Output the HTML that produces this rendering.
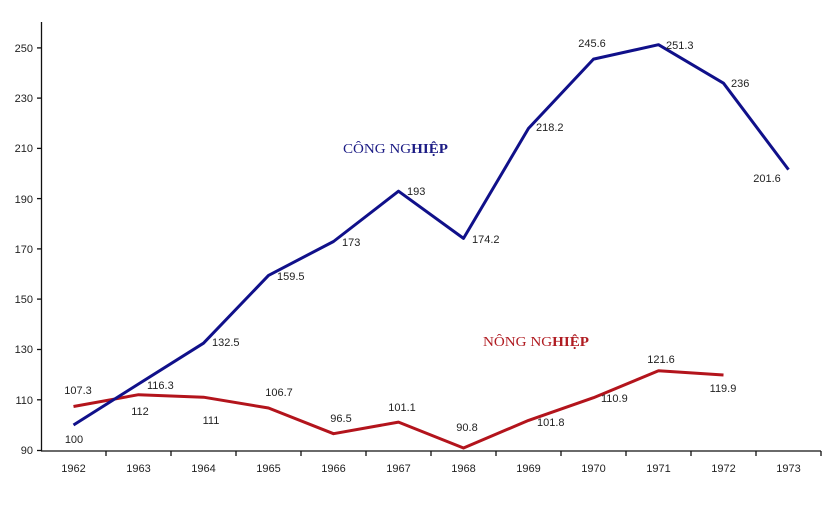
<!DOCTYPE html>
<html><head><meta charset="utf-8"><style>
html,body{margin:0;padding:0;background:#fff;}
svg{display:block;}
text{font-family:"Liberation Sans",Arial,sans-serif;font-size:11px;fill:#222;}
.s{font-family:"Liberation Serif","Times New Roman",serif;font-size:14px;}
</style></head><body>
<svg width="834" height="512" viewBox="0 0 834 512" xmlns="http://www.w3.org/2000/svg">
<rect width="834" height="512" fill="#fff"/>
<!-- axes -->
<g stroke="#111" stroke-width="1.3" fill="none">
<line x1="41.5" y1="22" x2="41.5" y2="451"/>
<line x1="41" y1="451" x2="821" y2="451"/>
<line x1="37" y1="47.9" x2="41.5" y2="47.9"/>
<line x1="37" y1="98.1" x2="41.5" y2="98.1"/>
<line x1="37" y1="148.4" x2="41.5" y2="148.4"/>
<line x1="37" y1="198.6" x2="41.5" y2="198.6"/>
<line x1="37" y1="248.9" x2="41.5" y2="248.9"/>
<line x1="37" y1="299.1" x2="41.5" y2="299.1"/>
<line x1="37" y1="349.5" x2="41.5" y2="349.5"/>
<line x1="37" y1="399.8" x2="41.5" y2="399.8"/>
<line x1="37" y1="450.5" x2="41.5" y2="450.5"/>
<line x1="106" y1="451" x2="106" y2="456"/>
<line x1="171" y1="451" x2="171" y2="456"/>
<line x1="236" y1="451" x2="236" y2="456"/>
<line x1="301" y1="451" x2="301" y2="456"/>
<line x1="366" y1="451" x2="366" y2="456"/>
<line x1="431" y1="451" x2="431" y2="456"/>
<line x1="496" y1="451" x2="496" y2="456"/>
<line x1="561" y1="451" x2="561" y2="456"/>
<line x1="626" y1="451" x2="626" y2="456"/>
<line x1="691" y1="451" x2="691" y2="456"/>
<line x1="756" y1="451" x2="756" y2="456"/>
<line x1="821" y1="451" x2="821" y2="456"/>
</g>
<!-- y labels -->
<g text-anchor="end">
<text x="33" y="52">250</text>
<text x="33" y="102">230</text>
<text x="33" y="152">210</text>
<text x="33" y="203">190</text>
<text x="33" y="253">170</text>
<text x="33" y="303">150</text>
<text x="33" y="353">130</text>
<text x="33" y="404">110</text>
<text x="33" y="454">90</text>
</g>
<!-- x labels -->
<g text-anchor="middle">
<text x="73.5" y="472">1962</text>
<text x="138.5" y="472">1963</text>
<text x="203.5" y="472">1964</text>
<text x="268.5" y="472">1965</text>
<text x="333.5" y="472">1966</text>
<text x="398.5" y="472">1967</text>
<text x="463.5" y="472">1968</text>
<text x="528.5" y="472">1969</text>
<text x="593.5" y="472">1970</text>
<text x="658.5" y="472">1971</text>
<text x="723.5" y="472">1972</text>
<text x="788.5" y="472">1973</text>
</g>
<!-- series -->
<polyline fill="none" stroke="#b3141c" stroke-width="3" stroke-linejoin="round"
points="73.5,406.5 138.5,394.7 203.5,397.2 268.5,408 333.5,433.7 398.5,422.1 463.5,448 528.5,420.4 593.5,397.7 658.5,370.8 723.5,375"/>
<polyline fill="none" stroke="#10108a" stroke-width="3" stroke-linejoin="round"
points="73.5,425 138.5,384 203.5,343.2 268.5,275.4 333.5,241.5 398.5,191.2 463.5,238.4 528.5,128.4 593.5,59.1 658.5,44.7 723.5,83.2 788.5,169.6"/>
<!-- blue labels -->
<text x="74" y="443" text-anchor="middle">100</text>
<text x="147" y="389">116.3</text>
<text x="212" y="346">132.5</text>
<text x="277" y="280">159.5</text>
<text x="342" y="246">173</text>
<text x="407" y="195">193</text>
<text x="472" y="243">174.2</text>
<text x="536" y="131">218.2</text>
<text x="592" y="47" text-anchor="middle">245.6</text>
<text x="666" y="49">251.3</text>
<text x="731" y="87">236</text>
<text x="767" y="182" text-anchor="middle">201.6</text>
<!-- red labels -->
<g text-anchor="middle">
<text x="78" y="394">107.3</text>
<text x="140" y="415">112</text>
<text x="211" y="424">111</text>
<text x="279" y="396">106.7</text>
<text x="341" y="422">96.5</text>
<text x="402" y="411">101.1</text>
<text x="467" y="431">90.8</text>
<text x="661" y="363">121.6</text>
<text x="723" y="392">119.9</text>
</g>
<text x="537" y="426">101.8</text>
<text x="601" y="402">110.9</text>
<!-- series titles -->
<text class="s" x="343" y="153" textLength="105" lengthAdjust="spacingAndGlyphs" style="fill:#1c1c85">CÔNG NG<tspan font-weight="bold">HIỆP</tspan></text>
<text class="s" x="483" y="346" textLength="106" lengthAdjust="spacingAndGlyphs" style="fill:#b01c22">NÔNG NG<tspan font-weight="bold">HIỆP</tspan></text>
</svg>
</body></html>
